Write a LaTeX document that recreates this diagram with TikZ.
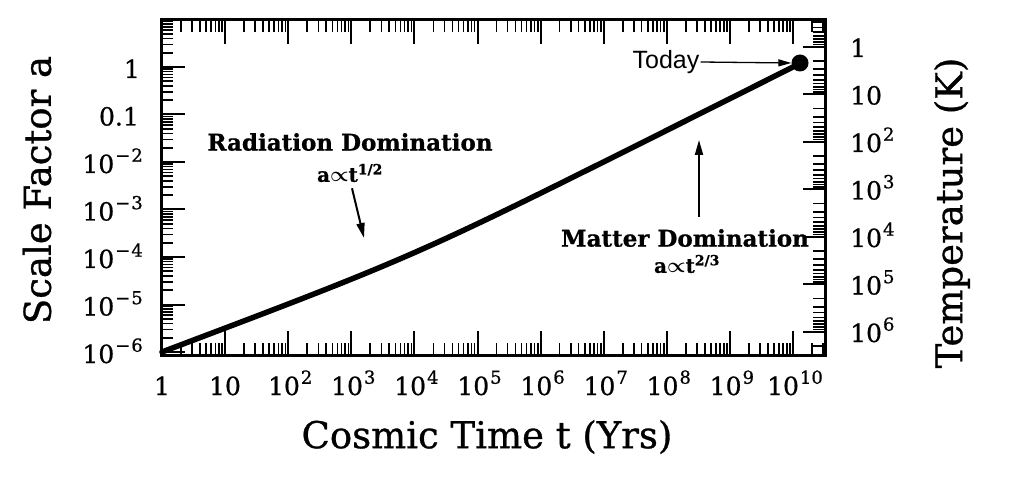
\documentclass[tikz,border=0pt]{standalone}
\usepackage{amsmath}
\usepackage{fontspec}
\setmainfont[FakeBold=0.8]{DejaVu Serif}
\newfontfamily\todayfont{Liberation Sans}
\usepackage{tikz}
\usetikzlibrary{arrows.meta}

\newcommand{\pw}[1]{10\kern1pt\raisebox{0.45em}{\fontsize{18}{18}\selectfont #1}}

\tikzset{
	ticklab/.style={font=\fontsize{25}{25}\selectfont, inner sep=0pt},
	axislab/.style={font=\fontsize{37}{37}\selectfont, inner sep=0pt},
	eralab/.style={font=\fontsize{23}{23}\selectfont\bfseries, inner sep=0pt},
	lawlab/.style={font=\fontsize{20}{20}\selectfont\bfseries, inner sep=0pt},
	pointer/.style={line width=2pt, -{Triangle[length=15pt,width=8pt]}},
}

\begin{document}
\begin{tikzpicture}[x=1pt, y=-1pt,
		major/.style={line width=2pt},
		minor/.style={line width=1.6pt}]
		\useasboundingbox (0,0) rectangle (1030,486);
		\draw [line width=3pt] (161,20) rectangle (825,355);
		
		% time axis, top and bottom
		\foreach \d in {0,...,10} {
			\draw [major] ({162+63.1*\d},355) -- ++(0,-24);
			\draw [major] ({162+63.1*\d},20) -- ++(0,24);
			\foreach \k in {2,...,9} {
				\pgfmathsetmacro\xt{162+63.1*(\d+log10(\k))}
				\ifdim\xt pt<824pt
				\draw [minor] (\xt,355) -- ++(0,-12);
				\draw [minor] (\xt,20) -- ++(0,12);
				\fi
			}
		}
		% scale factor, left
		\foreach \n in {-6,...,0}
		\draw [major] (161,{67-47.5*\n}) -- ++(24,0);
		\foreach \n in {-7,...,0} {
			\foreach \k in {2,...,9} {
				\pgfmathsetmacro\ya{67-47.5*(\n+log10(\k))}
				\ifdim\ya pt>21pt \ifdim\ya pt<354pt
				\draw [minor] (161,\ya) -- ++(12,0);
				\fi\fi
			}
		}
		% temperature, right
		\foreach \n in {0,...,6}
		\draw [major] (825,{46.6+47.5*\n}) -- ++(-22,0);
		\foreach \n in {-1,...,6} {
			\foreach \k in {2,...,9} {
				\pgfmathsetmacro\yT{46.6+47.5*(\n+log10(\k))}
				\ifdim\yT pt>21pt \ifdim\yT pt<354pt
				\draw [minor] (825,\yT) -- ++(-12,0);
				\fi\fi
			}
		}
		
		% tick labels
		\node [ticklab, anchor=base] (t0) at (162,395) {1};
		\node [ticklab, anchor=base] (t1) at (225,395) {10};
		\foreach \d in {2,...,10}
		\node [ticklab, anchor=base] (t\d) at ({164+63.1*\d},395) {\pw{\d}};
		\node [ticklab, anchor=base east] (a0) at (140,78) {1};
		\node [ticklab, anchor=base east] (a1) at (139,125.5) {0.1};
		\foreach \n in {2,...,6}
		\node [ticklab, anchor=base east] (a\n) at (143,{78+47.5*\n}) {\pw{−\kern1pt\n}};
		\node [ticklab, anchor=base west] (T0) at (850,57) {1};
		\node [ticklab, anchor=base west] (T1) at (850,104.5) {10};
		\foreach \n in {2,...,6}
		\node [ticklab, anchor=base west] (T\n) at (850,{57+47.5*\n}) {\pw{\n}};
		
		% axis titles
		\node [axislab] (xlab) at (487,437) {Cosmic Time t (Yrs)};
		\node [axislab, rotate=90] (ylab) at (37,190) {Scale Factor a};
		\node [axislab, rotate=90] (Tlab) at (952,213) {Temperature (K)};
		
		% a(t): slope 1/2 then 2/3
		\draw [line width=5.5pt, line cap=round] plot [domain=0:10.12, samples=80, smooth]
		({162+63.1*\x}, {67-47.5*(-6+0.5*\x+(1/6)*0.8*ln(1+exp((\x-4)/0.8)))});
		\node [circle, fill, inner sep=0pt, minimum size=17pt] (now) at (800,63) {};
		
		\node [eralab] (rad) at (350,142) {Radiation Domination};
		\node [lawlab] (radlaw) at (350,173) {a$\boldsymbol{\propto}$t\textsuperscript{1/2}};
		\coordinate (radtip) at (364,238);
		\draw [pointer] ([shift={(2,6)}]radlaw.south) -- (radtip);
		
		\node [eralab] (mat) at (685,238) {Matter Domination};
		\node [lawlab] (matlaw) at (687,264) {a$\boldsymbol{\propto}$t\textsuperscript{2/3}};
		\coordinate (mattip) at (699,140);
		\draw [pointer] ([shift={(14,-12)}]mat.north) -- (mattip);
		
		\node [font=\todayfont\fontsize{25}{25}\selectfont, inner sep=1pt] (today) at (666,62) {Today};
		\draw [line width=1.3pt, -{Triangle[length=13pt,width=7pt]}] (today.east) -- (now.west);
\end{tikzpicture}
\end{document}
